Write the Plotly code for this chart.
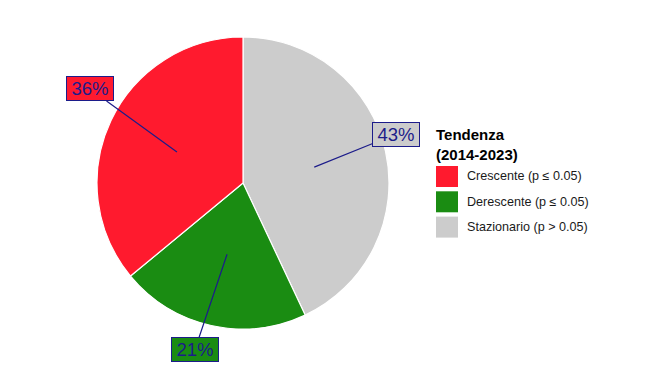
import math
import plotly.graph_objects as go

categories = ["Crescente (p ≤ 0.05)", "Derescente (p ≤ 0.05)", "Stazionario (p > 0.05)"]
values = [36, 21, 43]
label_text = ["36%", "21%", "43%"]
colors = ["#FF1A2E", "#1A8C12", "#CCCCCC"]
legend_title = "<b>Tendenza<br>(2014-2023)</b>"

W, H = 650, 366
cx_px, cy_px, r_px = 243, 183, 146

fig = go.Figure()
# slices run counterclockwise from 12 o'clock in the original order;
# drawn here clockwise with reversed order (same geometry)
fig.add_trace(go.Pie(
    labels=categories[::-1], values=values[::-1], sort=False, direction="clockwise",
    rotation=0, marker=dict(colors=colors[::-1], line=dict(color="white", width=1.2)),
    textinfo="none", hoverinfo="label+percent", showlegend=False,
    domain=dict(x=[(cx_px - r_px) / W, (cx_px + r_px) / W],
                y=[1 - (cy_px + r_px) / H, 1 - (cy_px - r_px) / H]),
))

# label offsets (pixels) from slice mid-point at half radius
offsets = [(-87, -63), (-32, 95), (82, -33)]
total = sum(values)
cum = 0
for i, v in enumerate(values):
    mid = (cum + v / 2) / total * 2 * math.pi
    cum += v
    px = cx_px - 0.5 * r_px * math.sin(mid)
    py = cy_px - 0.5 * r_px * math.cos(mid)
    ax, ay = offsets[i]
    fig.add_annotation(
        x=px / W, y=1 - py / H, xref="paper", yref="paper",
        text=label_text[i], showarrow=True, arrowhead=0, arrowwidth=1.2,
        arrowcolor="#1C1C8A", ax=ax, ay=ay, width=44, height=21,
        font=dict(family="Liberation Sans, Arial", size=18.5, color="#1C1C8A"),
        bgcolor=colors[i], bordercolor="#1C1C8A", borderwidth=1, borderpad=1,
    )

# legend
fig.add_annotation(x=434 / W, y=1 - 124 / H, xref="paper", yref="paper",
                   xanchor="left", yanchor="top", align="left", showarrow=False,
                   text=legend_title,
                   font=dict(family="Liberation Sans, Arial", size=15, color="black"))
for i, c in enumerate(categories):
    top = 166 + i * 25.3
    fig.add_shape(type="rect", xref="paper", yref="paper",
                  x0=436 / W, x1=458 / W, y0=1 - top / H, y1=1 - (top + 21) / H,
                  fillcolor=colors[i], line=dict(width=0))
    fig.add_annotation(x=465 / W, y=1 - (top + 10.5) / H, xref="paper", yref="paper",
                       xanchor="left", yanchor="middle", showarrow=False, text=c,
                       font=dict(family="Liberation Sans, Arial", size=12.6, color="#1a1a1a"))

fig.update_layout(width=W, height=H, margin=dict(l=0, r=0, t=0, b=0),
                  paper_bgcolor="white", plot_bgcolor="white", showlegend=False)
fig.write_html("out.html", config={"displayModeBar": False},
               post_script="document.body.style.margin='0';")
